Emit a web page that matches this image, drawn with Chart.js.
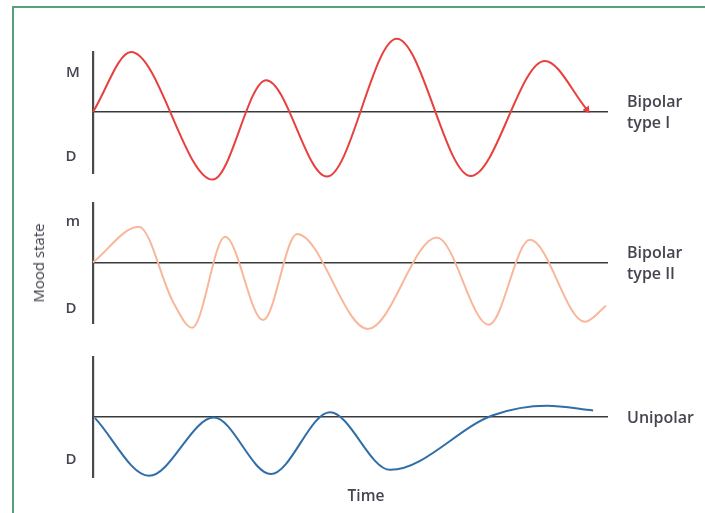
<!DOCTYPE html>
<html lang="en">
<head>
  <meta charset="UTF-8">
  <title>Mood state over time</title>
  <script src="https://cdn.jsdelivr.net/npm/chart.js"></script>
  <style>
    html, body { margin: 0; padding: 0; background: #fff; }
    #wrap { position: relative; width: 705px; height: 513px; overflow: hidden; font-family: 'Open Sans', sans-serif; color: #45454f; }
    #wrap canvas { position: absolute; left: 0; top: 0; }
    .frame { position: absolute; left: 12px; top: 6px; width: 720px; height: 540px; border-left: 2px solid #55a07d; border-top: 2px solid #55a07d; }
    .lbl { position: absolute; font-size: 15px; font-weight: 600; white-space: nowrap; transform: translate(-50%, -50%); }
    .side { position: absolute; font-size: 16px; font-weight: 600; line-height: 21px; white-space: nowrap; transform: translateY(-50%); }
    .ylab { position: absolute; left: 38px; top: 263px; font-size: 15px; color: #3c3c46; transform: translate(-50%, -50%) rotate(-90deg); white-space: nowrap; }
  </style>
</head>
<body>
  <div id="wrap">
    <div class="frame"></div>
    <canvas id="c1" width="705" height="513"></canvas>
    <canvas id="c2" width="705" height="513"></canvas>
    <canvas id="c3" width="705" height="513"></canvas>

    <div class="lbl" style="left:73px; top:71px;">M</div>
    <div class="lbl" style="left:71px; top:155px;">D</div>
    <div class="lbl" style="left:73px; top:220px;">m</div>
    <div class="lbl" style="left:71px; top:307px;">D</div>
    <div class="lbl" style="left:71px; top:458px;">D</div>
    <div class="ylab">Mood state</div>

    <div class="side" style="left:627px; top:112px;">Bipolar<br>type I</div>
    <div class="side" style="left:627px; top:263px;">Bipolar<br>type II</div>
    <div class="side" style="left:627px; top:417px;">Unipolar</div>
    <div class="lbl" style="left:366px; top:495px; font-size:15.5px;">Time</div>
  </div>

  <script>
    // time runs 0..100 along each baseline, mood 0 = baseline
    const timeI  = [0, 7.4, 23.3, 33.7, 45.5, 59.1, 73.5, 87.9, 96.1];
    const moodI  = [0, 1.0, -1.13, 0.53, -1.08, 1.22, -1.07, 0.85, 0.04];

    const timeII = [0, 8.9, 15.6, 19.3, 25.7, 33.1, 39.7, 53.5, 66.9, 77.0, 85.0, 95.7, 99.8];
    const moodII = [0, 0.6, -0.67, -1.1, 0.43, -0.97, 0.48, -1.12, 0.42, -1.05, 0.38, -1.0, -0.73];

    const timeU  = [0.4, 10.9, 23.5, 34.6, 46.1, 57.8, 77.8, 88.3, 97.3];
    const moodU  = [-0.03, -1.0, -0.02, -0.97, 0.07, -0.9, 0.02, 0.18, 0.1];

    function pts(xs, ys) { return xs.map((x, i) => ({ x, y: ys[i] })); }

    function panel(id, xs, ys, color, top, bottom, arrow) {
      const last = xs.length - 1;
      new Chart(document.getElementById(id), {
        type: 'line',
        data: {
          datasets: [{
            data: pts(xs, ys),
            borderColor: color,
            backgroundColor: color,
            borderWidth: 2,
            cubicInterpolationMode: 'monotone',
            clip: false,
            pointRadius: ys.map((v, i) => (arrow && i === last) ? 2.5 : 0),
            pointStyle: 'triangle',
            pointRotation: 145
          }]
        },
        options: {
          responsive: false,
          animation: false,
          events: [],
          layout: { padding: { left: 93, right: 98, top: top, bottom: 513 - bottom } },
          plugins: { legend: { display: false }, tooltip: { enabled: false } },
          scales: {
            x: {
              type: 'linear', min: 0, max: 100, position: { y: 0 },
              ticks: { display: false },
              grid: { display: false, drawTicks: false },
              border: { display: true, color: '#3a3a3a', width: 1.6 }
            },
            y: {
              min: -1.02, max: 1.0,
              ticks: { display: false },
              grid: { display: false, drawTicks: false },
              border: { display: true, color: '#4a4a4a', width: 2.2 }
            }
          }
        }
      });
    }

    panel('c1', timeI, moodI, '#e8403e', 52, 173, true);
    panel('c2', timeII, moodII, '#f8b79a', 203, 323, false);
    panel('c3', timeU, moodU, '#2f6ea8', 357, 477, false);
  </script>
</body>
</html>
